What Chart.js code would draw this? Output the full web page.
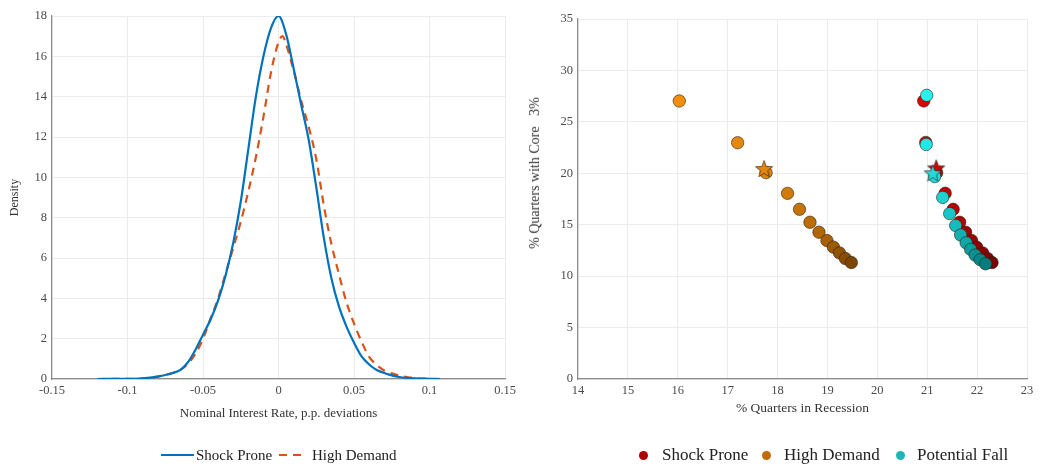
<!DOCTYPE html>
<html>
<head>
<meta charset="utf-8">
<script src="https://cdn.jsdelivr.net/npm/chart.js@4.4.0/dist/chart.umd.min.js"></script>
<style>
  body { margin: 0; background: #fff; font-family: 'Liberation Serif', serif; }
  #wrap { position: relative; width: 1049px; height: 464px; }
  .pane { position: absolute; top: 0; height: 464px; }
  .leg { position: absolute; font-size: 15px; color: #222; white-space: nowrap; line-height: 18px; }
  .leg.big { font-size: 17px; line-height: 20px; }
  .dot { position: absolute; width: 9px; height: 9px; border-radius: 50%; }
  #titoloY2 { position: absolute; left: 535px; top: 173px; font-size: 14px; color: #333; white-space: pre;
              transform: translate(-50%, -50%) rotate(-90deg); }
</style>
</head>
<body>
<div id="wrap">
  <div class="pane" style="left:0;width:520px"><canvas id="graficoDensita" width="520" height="464"></canvas></div>
  <div class="pane" style="left:520px;width:529px"><canvas id="graficoScatter" width="529" height="464"></canvas></div>
  <div id="titoloY2">% Quarters with Core   3%</div>

  <!-- legenda sinistra -->
  <svg style="position:absolute;left:160px;top:447px" width="36" height="16"><line x1="1" y1="8" x2="34" y2="8" stroke="#0072BD" stroke-width="2.2"/></svg>
  <div class="leg" style="left:196px;top:446px">Shock Prone</div>
  <svg style="position:absolute;left:278px;top:447px" width="30" height="16"><line x1="1" y1="8" x2="28" y2="8" stroke="#D95319" stroke-width="2.2" stroke-dasharray="8,6"/></svg>
  <div class="leg" style="left:312px;top:446px">High Demand</div>

  <!-- legenda destra -->
  <div class="dot" style="left:639px;top:451px;background:#B00000"></div>
  <div class="leg big" style="left:662px;top:445px">Shock Prone</div>
  <div class="dot" style="left:762px;top:451px;background:#C06A0A"></div>
  <div class="leg big" style="left:784px;top:445px">High Demand</div>
  <div class="dot" style="left:896px;top:451px;background:#1CB8B8"></div>
  <div class="leg big" style="left:917px;top:445px">Potential Fall</div>
</div>

<script>
// ---- grafico 1: densita' ----
var xShock = [-0.12, -0.1, -0.09, -0.08, -0.075, -0.07, -0.065, -0.06, -0.055, -0.05, -0.045, -0.04, -0.035, -0.03, -0.025, -0.02, -0.015, -0.01, -0.005, 0, 0.005, 0.01, 0.015, 0.02, 0.025, 0.03, 0.035, 0.04, 0.045, 0.05, 0.055, 0.06, 0.065, 0.07, 0.075, 0.08, 0.09, 0.1, 0.107];
var yShock = [0, 0.01, 0.03, 0.12, 0.2, 0.3, 0.45, 0.83, 1.45, 2.2, 2.95, 3.9, 5.15, 6.75, 8.8, 11.4, 14.0, 16.0, 17.4, 18.0, 17.1, 15.4, 13.6, 11.85, 9.5, 7.0, 5.0, 3.6, 2.6, 1.8, 1.12, 0.72, 0.45, 0.3, 0.18, 0.1, 0.03, 0.01, 0];

var xHigh = [-0.12, -0.1, -0.09, -0.08, -0.07, -0.065, -0.06, -0.055, -0.05, -0.045, -0.04, -0.035, -0.03, -0.025, -0.02, -0.015, -0.01, -0.005, 0, 0.0026, 0.005, 0.01, 0.015, 0.02, 0.025, 0.03, 0.035, 0.04, 0.045, 0.05, 0.055, 0.06, 0.065, 0.07, 0.075, 0.08, 0.085, 0.09, 0.1];
var yHigh = [0, 0.01, 0.03, 0.12, 0.3, 0.45, 0.75, 1.25, 2.0, 3.0, 4.0, 5.25, 6.5, 7.8, 9.3, 11.0, 13.0, 15.2, 16.7, 17.0, 16.6, 15.3, 13.8, 12.5, 10.9, 8.6, 6.7, 5.2, 3.8, 2.75, 1.85, 1.1, 0.7, 0.42, 0.28, 0.17, 0.1, 0.05, 0];

var xTicks1 = [-0.15, -0.1, -0.05, 0, 0.05, 0.1, 0.15];

// ---- grafico 2: scatter ----
var shockX = [20.93, 20.97, 21.19, 21.36, 21.52, 21.65, 21.77, 21.89, 21.99, 22.11, 22.21, 22.3];
var shockY = [27.03, 23.0, 20.06, 18.06, 16.5, 15.24, 14.27, 13.46, 12.82, 12.26, 11.71, 11.32];
var shockStar = [21.18, 20.48];

var highX = [16.03, 17.2, 17.77, 18.2, 18.44, 18.65, 18.83, 18.99, 19.12, 19.24, 19.36, 19.48];
var highY = [27.03, 22.97, 20.06, 18.05, 16.5, 15.24, 14.27, 13.46, 12.82, 12.26, 11.71, 11.32];
var highStar = [17.73, 20.42];

var fallX = [20.99, 20.98, 21.15, 21.31, 21.45, 21.57, 21.67, 21.78, 21.87, 21.96, 22.06, 22.17];
var fallY = [27.58, 22.8, 19.68, 17.65, 16.08, 14.92, 14.0, 13.24, 12.6, 12.05, 11.6, 11.2];
var fallStar = [21.11, 20.0];

var FONT = "'Liberation Serif', serif";
var griglia = '#ebebeb';
var asse = '#8c8c8c';
var testoTick = '#4a4a4a';

function punti(xs, ys) {
    var out = [];
    for (var i = 0; i < xs.length; i++) {
        out.push({x: xs[i], y: ys[i]});
    }
    return out;
}

// sfumatura da colore chiaro a scuro lungo la serie
function sfumatura(da, a, n) {
    var col = [];
    for (var i = 0; i < n; i++) {
        var t = n > 1 ? i / (n - 1) : 0;
        var r = Math.round(da[0] + (a[0] - da[0]) * t);
        var g = Math.round(da[1] + (a[1] - da[1]) * t);
        var b = Math.round(da[2] + (a[2] - da[2]) * t);
        col.push('rgb(' + r + ',' + g + ',' + b + ')');
    }
    return col;
}

// stella piena a 5 punte come pointStyle
function stella(colore) {
    var c = document.createElement('canvas');
    c.width = 20; c.height = 20;
    var g = c.getContext('2d');
    g.beginPath();
    for (var i = 0; i < 10; i++) {
        var ang = -Math.PI / 2 + i * Math.PI / 5;
        var r = (i % 2 === 0) ? 9 : 3.8;
        var px = 10 + r * Math.cos(ang);
        var py = 10.5 + r * Math.sin(ang);
        if (i === 0) g.moveTo(px, py); else g.lineTo(px, py);
    }
    g.closePath();
    g.fillStyle = colore;
    g.fill();
    g.strokeStyle = 'rgba(50,30,20,0.8)';
    g.lineWidth = 0.8;
    g.stroke();
    return c;
}

var ctx1 = document.getElementById('graficoDensita');
var chart1 = new Chart(ctx1, {
    type: 'line',
    data: {
        datasets: [{
            label: 'Shock Prone',
            data: punti(xShock, yShock),
            borderColor: '#0072BD',
            borderWidth: 2.2,
            pointRadius: 0,
            cubicInterpolationMode: 'monotone'
        }, {
            label: 'High Demand',
            data: punti(xHigh, yHigh),
            borderColor: '#D95319',
            borderWidth: 2.2,
            borderDash: [8, 6],
            pointRadius: 0,
            cubicInterpolationMode: 'monotone'
        }]
    },
    options: {
        responsive: false,
        animation: false,
        layout: { padding: { left: 0, right: 13, top: 16, bottom: 40 } },
        plugins: { legend: { display: false }, tooltip: { enabled: false } },
        scales: {
            x: {
                type: 'linear',
                min: -0.15, max: 0.15,
                afterBuildTicks: function(s) { s.ticks = xTicks1.map(function(v) { return {value: v}; }); },
                afterFit: function(s) { s.height = 45; },
                ticks: {
                    color: testoTick, padding: 4,
                    font: { family: FONT, size: 12.5 },
                    callback: function(v) { return String(Number(v.toFixed(2))); }
                },
                grid: { color: griglia, drawTicks: false },
                border: { color: asse, width: 1.2 },
                title: { display: true, text: 'Nominal Interest Rate, p.p. deviations', color: '#333', font: { family: FONT, size: 13 }, padding: { top: 0, bottom: 3 } }
            },
            y: {
                min: 0, max: 18,
                ticks: { stepSize: 2, color: testoTick, padding: 5, font: { family: FONT, size: 12.5 } },
                afterFit: function(s) { s.width = 52; },
                grid: { color: griglia, drawTicks: false },
                border: { color: asse, width: 1.2 },
                title: { display: true, text: 'Density', color: '#333', font: { family: FONT, size: 12 }, padding: { top: 8, bottom: 0 } }
            }
        }
    }
});

var bordoPunti = 'rgba(45,35,25,0.75)';

// order: piu' alto = disegnato prima (sotto)
var ctx2 = document.getElementById('graficoScatter');
var chart2 = new Chart(ctx2, {
    type: 'scatter',
    data: {
        datasets: [{
            label: 'Shock Prone',
            data: punti(shockX, shockY),
            pointBackgroundColor: sfumatura([220, 0, 0], [120, 0, 0], shockX.length),
            pointBorderColor: bordoPunti,
            pointBorderWidth: 0.8,
            pointRadius: 6.2,
            order: 6
        }, {
            label: 'Shock Prone star',
            data: [{x: shockStar[0], y: shockStar[1]}],
            pointStyle: stella('#D00000'),
            pointRadius: 10,
            order: 5
        }, {
            label: 'High Demand',
            data: punti(highX, highY),
            pointBackgroundColor: sfumatura([242, 142, 10], [125, 70, 0], highX.length),
            pointBorderColor: bordoPunti,
            pointBorderWidth: 0.8,
            pointRadius: 6.2,
            order: 4
        }, {
            label: 'High Demand star',
            data: [{x: highStar[0], y: highStar[1]}],
            pointStyle: stella('#E0860A'),
            pointRadius: 10,
            order: 3
        }, {
            label: 'Potential Fall',
            data: punti(fallX, fallY),
            pointBackgroundColor: sfumatura([40, 240, 240], [0, 125, 125], fallX.length),
            pointBorderColor: bordoPunti,
            pointBorderWidth: 0.8,
            pointRadius: 6.2,
            order: 2
        }, {
            label: 'Potential Fall star',
            data: [{x: fallStar[0], y: fallStar[1]}],
            pointStyle: stella('#28D8D8'),
            pointRadius: 10,
            order: 1
        }]
    },
    options: {
        responsive: false,
        animation: false,
        layout: { padding: { left: 0, right: 22, top: 19, bottom: 40 } },
        plugins: { legend: { display: false }, tooltip: { enabled: false } },
        scales: {
            x: {
                min: 14, max: 23,
                ticks: { stepSize: 1, color: testoTick, padding: 4, font: { family: FONT, size: 12.5 } },
                afterFit: function(s) { s.height = 45; },
                grid: { color: griglia, drawTicks: false },
                border: { color: asse, width: 1.2 },
                title: { display: true, text: '% Quarters in Recession', color: '#333', font: { family: FONT, size: 13.5 }, padding: { top: 0, bottom: 7 } }
            },
            y: {
                min: 0, max: 35,
                ticks: { stepSize: 5, color: testoTick, padding: 5, font: { family: FONT, size: 12.5 } },
                afterFit: function(s) { s.width = 58; },
                grid: { color: griglia, drawTicks: false },
                border: { color: asse, width: 1.2 }
            }
        }
    }
});
</script>
</body>
</html>
